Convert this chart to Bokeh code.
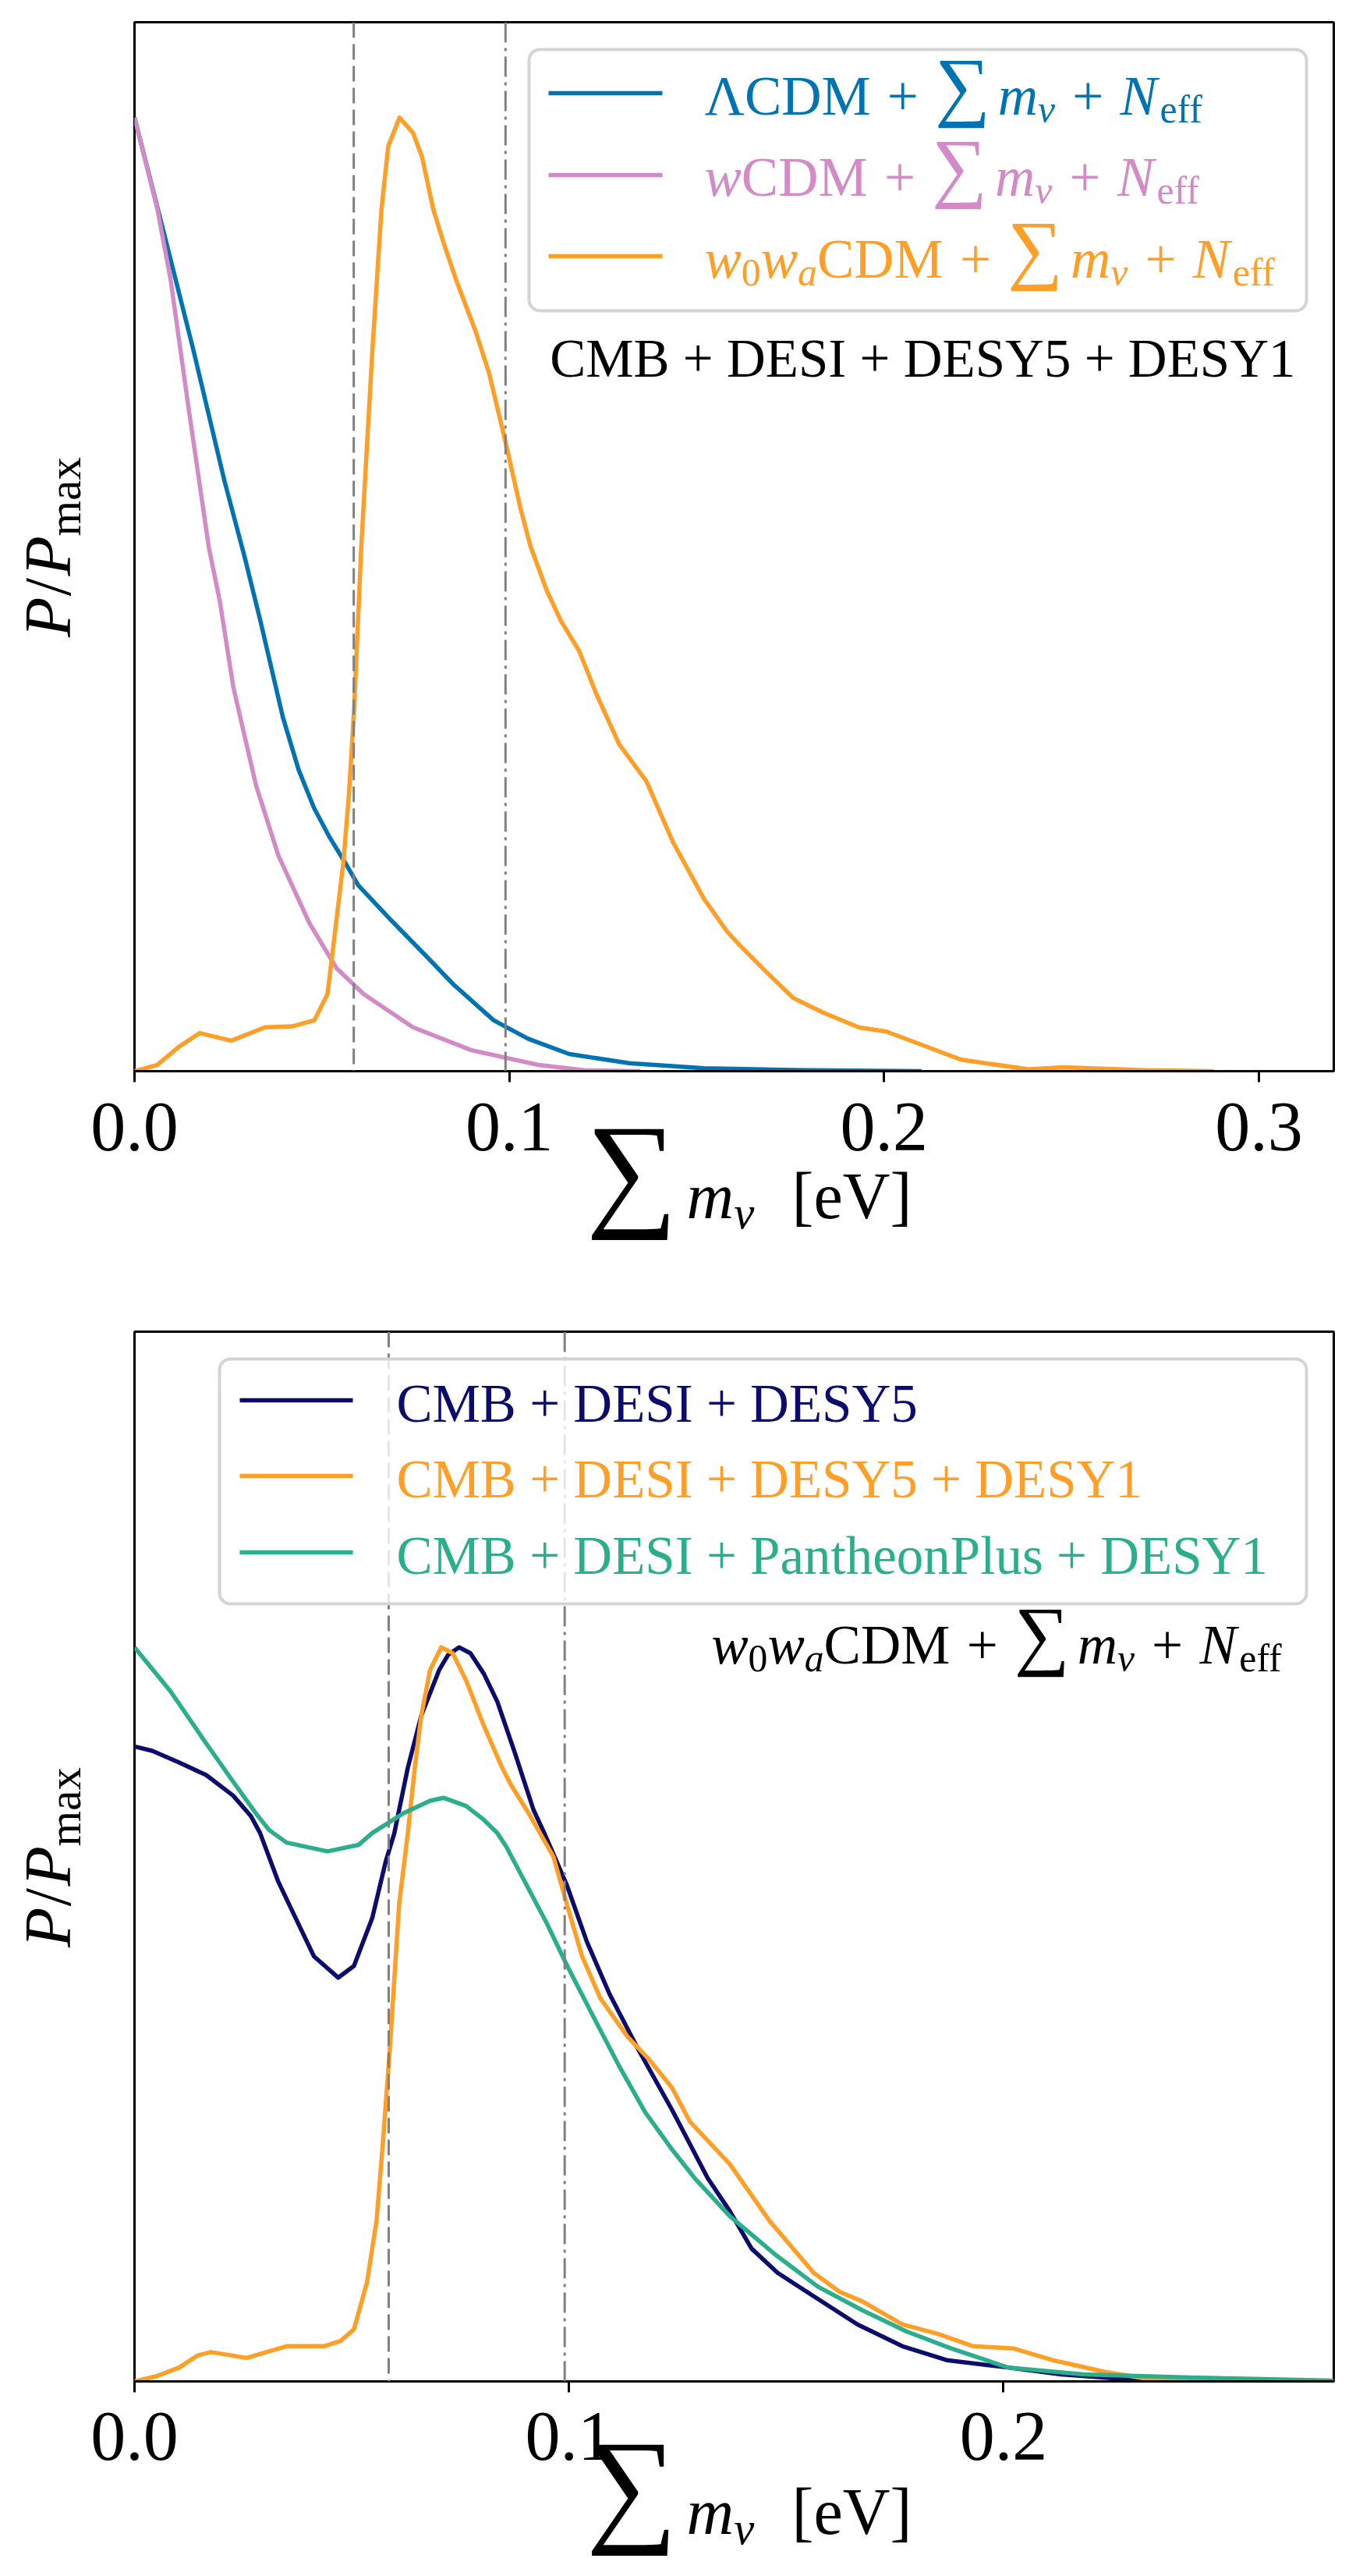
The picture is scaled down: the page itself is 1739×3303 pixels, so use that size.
import math
from bokeh.plotting import figure
from bokeh.models import Span, BoxAnnotation, Label, FixedTicker, Range1d
from bokeh.layouts import column, row
from bokeh.embed import file_html
from bokeh.resources import INLINE

# ------------------------------------------------------------------ data
# top panel: CMB + DESI + DESY5 + DESY1, three models
x_lcdm = [0.0, 0.0072, 0.0156, 0.024, 0.0294, 0.0336, 0.0396, 0.0438, 0.0479, 0.0521,
          0.0563, 0.0597, 0.0683, 0.078, 0.0851, 0.0958, 0.105, 0.116, 0.132, 0.152,
          0.18, 0.21]
p_lcdm = [1.0, 0.889, 0.758, 0.619, 0.539, 0.472, 0.371, 0.316, 0.276, 0.245,
          0.218, 0.195, 0.159, 0.120, 0.091, 0.0535, 0.034, 0.018, 0.0084, 0.003,
          0.001, 0.0]

x_wcdm = [0.0, 0.0061, 0.0096, 0.0144, 0.0198, 0.0228, 0.0264, 0.0324, 0.0384, 0.0467,
          0.0539, 0.0611, 0.0743, 0.0899, 0.1078, 0.12, 0.135]
p_wcdm = [1.0, 0.904, 0.831, 0.696, 0.55, 0.492, 0.402, 0.300, 0.226, 0.155,
          0.108, 0.081, 0.046, 0.022, 0.0065, 0.001, 0.0]

x_w0wa = [0.0, 0.006, 0.012, 0.0174, 0.0258, 0.0348, 0.042, 0.048, 0.0515, 0.0539,
          0.0557, 0.0572, 0.0586, 0.0605, 0.0635, 0.0659, 0.0677, 0.0707, 0.0743, 0.0767,
          0.0797, 0.0826, 0.0857, 0.091, 0.0946, 0.0988, 0.103, 0.1057, 0.110, 0.1138,
          0.1186, 0.1234, 0.1293, 0.1366, 0.1437, 0.1519, 0.158, 0.1615, 0.1686, 0.1757,
          0.1838, 0.1934, 0.2005, 0.2112, 0.2206, 0.2385, 0.2478, 0.27, 0.288]
p_w0wa = [0.0, 0.0065, 0.026, 0.040, 0.032, 0.046, 0.047, 0.0535, 0.081, 0.159,
          0.218, 0.29, 0.38, 0.55, 0.758, 0.904, 0.970, 1.0, 0.984, 0.959,
          0.904, 0.867, 0.831, 0.776, 0.732, 0.663, 0.590, 0.55, 0.504, 0.472,
          0.441, 0.394, 0.343, 0.304, 0.240, 0.181, 0.147, 0.132, 0.104, 0.077,
          0.0613, 0.0458, 0.0417, 0.026, 0.012, 0.002, 0.004, 0.001, 0.0]

# bottom panel: w0waCDM + sum m_nu + N_eff, three data combinations
x_desy5 = [0.0, 0.0041, 0.0103, 0.0165, 0.0227, 0.0268, 0.0289, 0.033, 0.0371, 0.0413,
           0.0469, 0.0505, 0.0547, 0.0578, 0.0598, 0.0629, 0.066, 0.0701, 0.0722, 0.0747,
           0.0773, 0.0804, 0.0835, 0.0876, 0.0918, 0.0943, 0.0995, 0.1041, 0.1093, 0.1155,
           0.1237, 0.1268, 0.1319, 0.137, 0.142, 0.148, 0.1563, 0.1664, 0.1767, 0.1869,
           0.201, 0.2133, 0.2285, 0.245, 0.276]
p_desy5 = [0.865, 0.859, 0.843, 0.826, 0.798, 0.770, 0.747, 0.682, 0.631, 0.579,
           0.550, 0.566, 0.631, 0.708, 0.747, 0.836, 0.907, 0.969, 0.990, 1.0,
           0.992, 0.964, 0.926, 0.855, 0.779, 0.747, 0.676, 0.599, 0.528, 0.457,
           0.370, 0.335, 0.277, 0.232, 0.181, 0.148, 0.116, 0.0776, 0.048, 0.029,
           0.019, 0.0096, 0.003, 0.0, 0.0]

x_desy5_y1 = [0.0, 0.0052, 0.0103, 0.0145, 0.0176, 0.0258, 0.035, 0.0436, 0.0474, 0.0505,
              0.0535, 0.0557, 0.0572, 0.0588, 0.0609, 0.0629, 0.0645, 0.066, 0.068, 0.0706,
              0.0732, 0.0763, 0.0804, 0.0846, 0.0866, 0.0907, 0.0964, 0.0995, 0.103, 0.1072,
              0.1134, 0.1185, 0.1237, 0.1278, 0.137, 0.1461, 0.1563, 0.1623, 0.1675, 0.1767,
              0.1848, 0.193, 0.2022, 0.2113, 0.2235, 0.2337, 0.25, 0.276]
p_desy5_y1 = [0.0, 0.0074, 0.019, 0.0354, 0.040, 0.032, 0.048, 0.048, 0.055, 0.071,
              0.135, 0.219, 0.328, 0.457, 0.650, 0.747, 0.836, 0.907, 0.969, 1.0,
              0.992, 0.955, 0.893, 0.836, 0.813, 0.774, 0.715, 0.650, 0.579, 0.522,
              0.470, 0.438, 0.400, 0.354, 0.296, 0.219, 0.148, 0.122, 0.109, 0.0776,
              0.065, 0.048, 0.045, 0.029, 0.0128, 0.003, 0.0, 0.0]

x_pp_y1 = [0.0, 0.0083, 0.0165, 0.0227, 0.0279, 0.031, 0.035, 0.0444, 0.0516, 0.0547,
           0.0619, 0.068, 0.0711, 0.0763, 0.0804, 0.0835, 0.0856, 0.0897, 0.0948, 0.0995,
           0.1062, 0.1114, 0.1175, 0.1237, 0.1289, 0.137, 0.1472, 0.1573, 0.1675, 0.1777,
           0.1879, 0.201, 0.2184, 0.245, 0.276]
p_pp_y1 = [1.0, 0.940, 0.869, 0.817, 0.774, 0.751, 0.734, 0.722, 0.731, 0.747,
           0.774, 0.791, 0.795, 0.784, 0.765, 0.747, 0.728, 0.682, 0.625, 0.567,
           0.490, 0.431, 0.367, 0.316, 0.277, 0.225, 0.174, 0.129, 0.097, 0.068,
           0.045, 0.019, 0.0096, 0.005, 0.001]

# vertical reference lines: normal / inverted ordering minimum masses
mnu_normal = 0.0585
mnu_inverted = 0.099

x_ticks_top = [0.0, 0.1, 0.2, 0.3]
x_ticks_bottom = [0.0, 0.1, 0.2]
x_range_top = (0.0, 0.32)
x_range_bottom = (0.0, 0.276)
y_range_top = (0.0, 1.1)
y_range_bottom = (0.0, 1.43)

bottom_legend = ["CMB + DESI + DESY5", "CMB + DESI + DESY5 + DESY1",
                 "CMB + DESI + PantheonPlus + DESY1"]
top_annotation = "CMB + DESI + DESY5 + DESY1"

# ------------------------------------------------------------------ style
SERIF = "Liberation Serif"
C_BLUE = "#0173b2"
C_PINK = "#d38bc7"
C_ORANGE = "#ff9f27"
C_NAVY = "#0b0c6b"
C_GREEN = "#2bae8b"
GRAY = "#808080"
LW = 5.5
BF = 0.30   # baseline correction (fraction of font size) for Bokeh's text placement

W_R = {' ': 250, '+': 564, '/': 278, '[': 333, ']': 333, '0': 500, '1': 500, '5': 500,
       'B': 667, 'C': 667, 'D': 722, 'E': 611, 'I': 333, 'M': 889, 'N': 722, 'P': 556,
       'S': 556, 'V': 722, 'Y': 722, 'a': 444, 'e': 444, 'f': 333, 'h': 500, 'l': 278,
       'm': 778, 'n': 500, 'o': 500, 's': 389, 't': 278, 'u': 500, 'x': 500,
       'Λ': 722, 'ν': 500, '∑': 640}
W_I = {'m': 722, 'w': 667, 'N': 667, 'P': 611, 'a': 500, 'ν': 460, ' ': 250}

PAGE_W = 1739
FRAME_L = 172          # page x of the plotting frame's left edge
FRAME_R = 29           # right border
FRAME_W = PAGE_W - FRAME_L - FRAME_R
YLAB_W = 162           # width of the strip holding the y label
MAIN_L = FRAME_L - YLAB_W
TOP_B = 28
TICK_B = 22


def tw(s, italic):
    tbl = W_I if italic else W_R
    return sum(tbl.get(ch, 500) for ch in s) / 1000.0


class Geo:
    """maps figure-pixel positions (x from page left, y from figure top) to data"""
    def __init__(self, left, fw, top, fh, xr, yr):
        self.left, self.fw, self.top, self.fh, self.xr, self.yr = left, fw, top, fh, xr, yr

    def x(self, px):
        return self.xr[0] + (px - self.left) / self.fw * (self.xr[1] - self.xr[0])

    def y(self, py):
        return self.yr[0] + (self.top + self.fh - py) / self.fh * (self.yr[1] - self.yr[0])


def text(p, g, x_px, y_px, t, size, color, align="left", italic=False, vertical=False):
    fs = size
    if vertical:
        px, py, ang = x_px - BF * fs, y_px, math.pi / 2
    else:
        px, py, ang = x_px, y_px - BF * fs, 0.0
    p.add_layout(Label(x=g.x(px), y=g.y(py), text=t, angle=ang,
                       text_font=SERIF, text_font_size=f"{fs:.1f}px",
                       text_font_style="italic" if italic else "normal",
                       text_color=color, text_align=align,
                       text_baseline="alphabetic"))


def place(p, g, x_px, y_px, items, size, color, align="left", vertical=False):
    # items: (text, scale, italic, rise_em, gap_before_em)
    total = 0.0
    for t, sc, it, rise, gap in items:
        total += gap * size + tw(t, it) * sc * size
    cur = {"right": -total, "center": -total / 2}.get(align, 0.0)
    for t, sc, it, rise, gap in items:
        cur += gap * size
        if t:
            if vertical:
                text(p, g, x_px - rise * size, y_px - cur, t, size * sc, color,
                     italic=it, vertical=True)
            else:
                text(p, g, x_px + cur, y_px - rise * size, t, size * sc, color, italic=it)
        cur += tw(t, it) * sc * size


PLUS = [("", 1, False, 0, 0.30), ("+", 1, False, 0, 0), ("", 1, False, 0, 0.30)]
TAIL = (PLUS + [("∑", 1.4, False, 0.07, 0), ("m", 1, True, 0, 0.24),
                ("ν", 0.7, True, -0.15, 0)] + PLUS +
        [("N", 1, True, 0, 0), ("eff", 0.7, False, -0.15, 0.05)])
RUN_LCDM = [("ΛCDM", 1, False, 0, 0)] + TAIL
RUN_WCDM = [("w", 1, True, 0, 0), ("CDM", 1, False, 0, 0)] + TAIL
RUN_W0WA = [("w", 1, True, 0, 0), ("0", 0.7, False, -0.15, 0), ("w", 1, True, 0, 0),
            ("a", 0.7, True, -0.15, 0), ("CDM", 1, False, 0, 0)] + TAIL
RUN_YLAB = [("P", 1, True, 0, 0), ("/", 1, False, 0, 0.04), ("P", 1, True, 0, 0.04),
            ("max", 0.7, False, -0.17, 0.02)]


def blank_fig(w, h, xr, yr):
    f = figure(width=w, height=h, x_range=Range1d(*xr), y_range=Range1d(*yr),
               output_backend="svg", toolbar_location=None,
               x_axis_location=None, y_axis_location=None, min_border=0)
    f.min_border_left = f.min_border_right = f.min_border_top = f.min_border_bottom = 0
    f.outline_line_color = None
    f.background_fill_color = "white"
    f.border_fill_color = "white"
    f.xgrid.visible = False
    f.ygrid.visible = False
    return f


def make_main(fh, xr, yr, ticks):
    H = TOP_B + fh + TICK_B
    p = figure(width=PAGE_W - YLAB_W, height=H, x_range=Range1d(*xr), y_range=Range1d(*yr),
               output_backend="svg", toolbar_location=None,
               min_border_left=MAIN_L, min_border_right=FRAME_R,
               min_border_top=TOP_B, min_border_bottom=TICK_B)
    p.background_fill_color = "white"
    p.border_fill_color = "white"
    p.xgrid.visible = False
    p.ygrid.visible = False
    p.yaxis.visible = False
    p.outline_line_color = "black"
    p.outline_line_width = 3
    p.outline_line_alpha = 1.0
    ax = p.xaxis[0]
    ax.ticker = FixedTicker(ticks=ticks)
    ax.major_label_overrides = {t: "" for t in ticks}
    ax.major_label_text_font_size = "1px"
    ax.major_label_standoff = 0
    ax.axis_line_width = 3
    ax.axis_line_color = "black"
    ax.major_tick_line_width = 3
    ax.major_tick_line_color = "black"
    ax.major_tick_out = 14
    ax.major_tick_in = 0
    ax.minor_tick_out = 0
    ax.minor_tick_in = 0
    g = Geo(FRAME_L, FRAME_W, TOP_B, fh, xr, yr)
    return p, g, H


def legend_box(p, g, l, r, t, b):
    kw = dict(left=g.x(l), right=g.x(r), top=g.y(t), bottom=g.y(b),
              fill_color="white", fill_alpha=0.8, line_color="#d4d4d4",
              line_width=4, line_alpha=1.0)
    try:
        box = BoxAnnotation(border_radius=14, **kw)
    except Exception:
        box = BoxAnnotation(**kw)
    p.add_layout(box)


def swatch(p, g, x0, x1, yc, color):
    p.add_layout(BoxAnnotation(left=g.x(x0), right=g.x(x1), top=g.y(yc - LW / 2),
                               bottom=g.y(yc + LW / 2), fill_color=color, fill_alpha=1.0,
                               line_alpha=0))


def ylabel_fig(H, yc):
    f = blank_fig(YLAB_W, H, (0, YLAB_W), (0, H))
    g = Geo(0, YLAB_W, 0, H, (0, YLAB_W), (0, H))
    place(f, g, 86, yc, RUN_YLAB, 84, "black", align="center", vertical=True)
    return f


def xlabel_fig(H, xr, ticks, tick_base, lab_base):
    s = (xr[1] - xr[0]) / FRAME_W
    xr_full = (xr[0] - FRAME_L * s, xr[1] + FRAME_R * s)
    f = blank_fig(PAGE_W, H, xr_full, (0, H))
    g = Geo(0, PAGE_W, 0, H, xr_full, (0, H))
    for t in ticks:
        f.add_layout(Label(x=t, y=g.y(tick_base - BF * 90), text=f"{t:.1f}",
                           text_font=SERIF, text_font_size="90px", text_color="black",
                           text_align="center", text_baseline="alphabetic"))
    size = 84
    text(f, g, 751, lab_base - 10, "∑", 164, "black")
    place(f, g, 880, lab_base, [("m", 1, True, 0, 0), ("ν", 0.7, True, -0.17, 0)], size, "black")
    text(f, g, 1015, lab_base, "[eV]", size, "black")
    return f


# ------------------------------------------------------------------ top panel
p1, g1, H1 = make_main(1345, x_range_top, y_range_top, x_ticks_top)
p1.line(x_lcdm, p_lcdm, line_color=C_BLUE, line_width=LW, line_join="round")
p1.line(x_wcdm, p_wcdm, line_color=C_PINK, line_width=LW, line_join="round")
p1.line(x_w0wa, p_w0wa, line_color=C_ORANGE, line_width=LW, line_join="round")
p1.add_layout(Span(location=mnu_normal, dimension="height", line_color=GRAY,
                   line_width=3, line_dash="20 8"))
p1.add_layout(Span(location=mnu_inverted, dimension="height", line_color=GRAY,
                   line_width=3, line_dash="26 7 4 7"))
legend_box(p1, g1, 678, 1675, 63, 398)
for yc, col in zip([119, 224, 328], [C_BLUE, C_PINK, C_ORANGE]):
    swatch(p1, g1, 703, 849, yc, col)
for yb, col, run in zip([144, 248, 353], [C_BLUE, C_PINK, C_ORANGE],
                        [RUN_LCDM, RUN_WCDM, RUN_W0WA]):
    place(p1, g1, 903, yb, run, 71, col)
text(p1, g1, 1661, 480, top_annotation, 69, "black", align="right")
ylab1 = ylabel_fig(H1, 700)
XL1_H = 1679 - H1
xlab1 = xlabel_fig(XL1_H, x_range_top, x_ticks_top, 1471 - H1, 1558 - H1)

# ------------------------------------------------------------------ bottom panel
p2, g2, H2 = make_main(1346, x_range_bottom, y_range_bottom, x_ticks_bottom)
p2.line(x_desy5, p_desy5, line_color=C_NAVY, line_width=LW, line_join="round")
p2.line(x_desy5_y1, p_desy5_y1, line_color=C_ORANGE, line_width=LW, line_join="round")
p2.line(x_pp_y1, p_pp_y1, line_color=C_GREEN, line_width=LW, line_join="round")
p2.add_layout(Span(location=mnu_normal, dimension="height", line_color=GRAY,
                   line_width=3, line_dash="20 8"))
p2.add_layout(Span(location=mnu_inverted, dimension="height", line_color=GRAY,
                   line_width=3, line_dash="26 7 4 7"))
legend_box(p2, g2, 281, 1675, 63, 377)
for yc, col in zip([116, 213, 311], [C_NAVY, C_ORANGE, C_GREEN]):
    swatch(p2, g2, 307, 452, yc, col)
for yb, col, txt in zip([141, 238, 336], [C_NAVY, C_ORANGE, C_GREEN], bottom_legend):
    text(p2, g2, 508, yb, txt, 69, col)
place(p2, g2, 1644, 451, RUN_W0WA, 71, "black", align="right")
ylab2 = ylabel_fig(H2, 701)
XL2_H = 3303 - 1679 - H2
xlab2 = xlabel_fig(XL2_H, x_range_bottom, x_ticks_bottom, 3150 - 1679 - H2, 3245 - 1679 - H2)

layout = column(row(ylab1, p1, spacing=0), xlab1, row(ylab2, p2, spacing=0), xlab2,
                spacing=0)
open("out.html", "w").write(file_html(layout, INLINE))
